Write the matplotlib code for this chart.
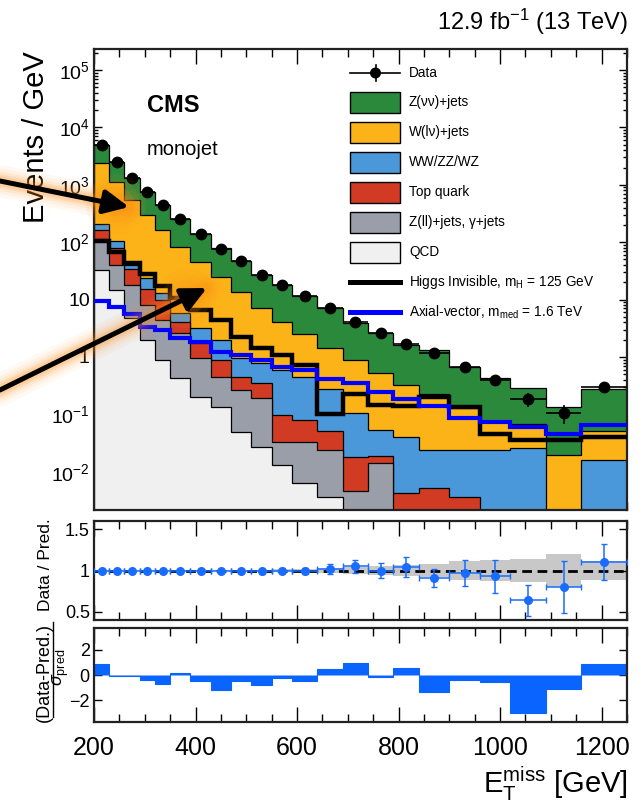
import numpy as np
import matplotlib
matplotlib.use("Agg")
import matplotlib.pyplot as plt
from matplotlib.patches import FancyArrowPatch, Rectangle, Circle
from matplotlib.ticker import FixedLocator, FuncFormatter, MultipleLocator, LogLocator, NullFormatter, NullLocator

plt.rcParams['font.family'] = ['Liberation Sans', 'DejaVu Sans']
plt.rcParams['mathtext.fontset'] = 'custom'
plt.rcParams['mathtext.rm'] = 'Liberation Sans'
plt.rcParams['mathtext.it'] = 'Liberation Sans:italic'
plt.rcParams['mathtext.bf'] = 'Liberation Sans:bold'
plt.rcParams['mathtext.sf'] = 'Liberation Sans'

# ---------------- data ----------------
edges = [200, 230, 260, 290, 320, 350, 390, 430, 470, 510, 550, 590, 640, 690,
         740, 790, 840, 900, 960, 1020, 1090, 1160, 1250]

data = [4940, 2470, 1330, 750, 440, 251, 137, 77.1, 46.5, 26.5, 18.2, 11.7, 7.22,
        4.07, 2.59, 1.66, 1.19, 0.656, 0.397, 0.183, 0.107, 0.304]
data_err = [13, 9.1, 6.7, 5.0, 3.8, 2.5, 1.85, 1.39, 1.08, 0.81, 0.67, 0.48, 0.38,
            0.285, 0.228, 0.182, 0.141, 0.105, 0.081, 0.051, 0.039, 0.058]

qcd = [32.8, 14.7, 4.72, 1.98, 0.887, 0.426, 0.203, 0.136, 0.050, 0.0274, 0.0131,
       0.0063, 0.0036, 0, 0, 0, 0, 0, 0, 0, 0, 0]
zll = [80.9, 25.4, 13.2, 6.07, 3.52, 2.16, 0.746, 0.318, 0.216, 0.163, 0.0203,
       0.0271, 0.0204, 0.0046, 0.0141, 0.0015, 0.001, 0.001, 0.0005, 0, 0, 0]
top = [52.3, 38.2, 15.7, 7.05, 5.43, 1.53, 0.78, 0.433, 0.188, 0.157, 0.0643,
       0.0464, 0.0274, 0.0137, 0.0044, 0.0027, 0.0042, 0.0026, 0.001, 0.001, 0, 0.001]
vv = [41.5, 26.7, 6.4, 8.4, 3.36, 1.65, 1.43, 1.09, 0.495, 0.429, 0.496, 0.374,
      0.226, 0.0862, 0.035, 0.0362, 0.0188, 0.0204, 0.0225, 0.0247, 0.0015, 0.0151]
wlnu = [2162, 1027, 503, 274.5, 149.8, 77.7, 42.5, 23.1, 12.75, 6.36, 3.48, 2.07,
        1.158, 0.78, 0.4725, 0.2846, 0.203, 0.104, 0.0527, 0.0423, 0.0181, 0.0353]
znn = [2570, 1338, 787, 452, 277, 167.5, 91.3, 52.7, 32.8, 19.66, 14.13, 9.18, 5.65,
       2.99, 2.064, 1.275, 1.093, 0.548, 0.350, 0.218, 0.1144, 0.2246]

higgs = [106.3, 68.3, 42.9, 27.9, 17.3, 10.66, 6.59, 4.41, 2.26, 1.42, 1.08, 0.726,
         0.1016, 0.2266, 0.146, 0.140, 0.201, 0.1346, 0.0456, 0.0358, 0.0358, 0.0404]
axial = [9.57, 7.52, 5.61, 3.37, 2.95, 2.12, 1.85, 1.24, 1.08, 0.887, 0.678, 0.594,
         0.414, 0.348, 0.249, 0.1855, 0.140, 0.0855, 0.0746, 0.0591, 0.0456, 0.0654]

ratio = [1.0, 1.0, 1.0, 1.0, 0.998, 1.0, 1.0, 0.99, 1.0, 0.99, 1.0, 0.995, 1.02,
         1.05, 1.0, 1.04, 0.91, 0.97, 0.93, 0.64, 0.80, 1.10]
ratio_err = [0.003, 0.004, 0.005, 0.007, 0.009, 0.011, 0.014, 0.018, 0.022, 0.028,
             0.034, 0.04, 0.06, 0.075, 0.09, 0.12, 0.11, 0.16, 0.2, 0.19, 0.31, 0.22]
pred_unc = [0.004, 0.004, 0.005, 0.005, 0.006, 0.007, 0.008, 0.009, 0.01, 0.012,
            0.015, 0.02, 0.03, 0.04, 0.05, 0.065, 0.08, 0.11, 0.13, 0.14, 0.2, 0.11]
pull = [0.87, -0.05, -0.05, -0.37, -0.68, 0.12, -0.5, -1.18, -0.5, -0.75, -0.2,
        -0.45, 0.5, 0.95, -0.18, 0.58, -1.35, -0.4, -0.55, -3.02, -1.07, 0.87]

labels = ["Z(\u03bd\u03bd)+jets", "W(l\u03bd)+jets", "WW/ZZ/WZ", "Top quark",
          "Z(ll)+jets, \u03b3+jets", "QCD"]
colors = ["#2b893c", "#fbb317", "#4a98d9", "#d13b24", "#9a9ea8", "#f0f0f0"]

# ---------------- figure ----------------
fig = plt.figure(figsize=(6.4, 8.02), dpi=100)
L = 94 / 640
W = (627 - 94) / 640
ax = fig.add_axes([L, 1 - 510 / 802, W, 461 / 802])
axr = fig.add_axes([L, 1 - 620 / 802, W, 99 / 802])
axp = fig.add_axes([L, 1 - 722 / 802, W, 94 / 802])

e = np.array(edges, dtype=float)
centers = 0.5 * (e[1:] + e[:-1])
halfw = 0.5 * (e[1:] - e[:-1])

floor = 1e-5
comps = [qcd, zll, top, vv, wlnu, znn]       # bottom -> top
cols_b2t = colors[::-1]
cums = np.cumsum(np.array(comps, dtype=float), axis=0)
for i in range(len(comps) - 1, -1, -1):
    ax.stairs(np.maximum(cums[i], floor), e, baseline=floor, fill=True,
              facecolor=cols_b2t[i], edgecolor='black', linewidth=0.9, zorder=2)

ax.stairs(higgs, e, baseline=None, color='black', linewidth=3.2, zorder=4)
ax.stairs(axial, e, baseline=None, color='#0000ff', linewidth=3.0, zorder=4)
ax.errorbar(centers, data, yerr=data_err, xerr=halfw, fmt='o', color='black',
            ms=7.5, elinewidth=1.2, capsize=0, zorder=6)

ax.set_yscale('log')
ax.set_xlim(200, 1250)
ax.set_ylim(10 ** -2.666, 10 ** 5.366)


def logfmt(v, pos):
    ex = int(round(np.log10(v)))
    if ex == 0:
        return "1"
    if ex == 1:
        return "10"
    return r"$10^{%d}$" % ex


ax.yaxis.set_major_locator(LogLocator(base=10, numticks=20))
ax.yaxis.set_minor_locator(LogLocator(base=10, subs=np.arange(2, 10), numticks=20))
ax.yaxis.set_major_formatter(FuncFormatter(logfmt))
ax.yaxis.set_minor_formatter(NullFormatter())

for a in (ax, axr, axp):
    a.xaxis.set_major_locator(MultipleLocator(200))
    a.xaxis.set_minor_locator(MultipleLocator(50))
    a.set_xlim(200, 1250)
    a.tick_params(axis='both', which='both', direction='in', top=True, right=True,
                  width=1.0, colors='black')
    a.tick_params(axis='x', which='major', length=11)
    a.tick_params(axis='x', which='minor', length=5.5)
    a.tick_params(axis='y', which='major', length=6)
    a.tick_params(axis='y', which='minor', length=3)
    for s in a.spines.values():
        s.set_linewidth(1.6)
        s.set_color('#222222')

for a in (ax, axr):
    a.xaxis.set_major_formatter(NullFormatter())
    a.tick_params(axis='x', labelbottom=False)
ax.tick_params(axis='y', labelsize=14, pad=3)

# ratio panel
unc = np.array(pred_unc)
axr.stairs(1 + unc, e, baseline=1 - unc, fill=True, color='#c8c8c8', lw=0, zorder=1)
axr.axhline(1.0, color='black', lw=2.0, ls=(0, (3.5, 2)), zorder=2)
axr.errorbar(centers, ratio, yerr=ratio_err, xerr=halfw, fmt='o', color='#1a6cff',
             ms=5.5, elinewidth=1.1, capsize=2.5, capthick=1.0, zorder=3)
axr.set_ylim(0.4, 1.6)
axr.yaxis.set_major_locator(FixedLocator([0.5, 1.0, 1.5]))
axr.yaxis.set_major_formatter(FuncFormatter(lambda v, p: {0.5: "0.5", 1.0: "1", 1.5: "1.5"}.get(round(v, 1), "")))
axr.yaxis.set_minor_locator(NullLocator())
axr.tick_params(axis='y', labelsize=13, pad=3)

# pull panel
axp.stairs(pull, e, baseline=0, fill=True, facecolor='#0a64ff', edgecolor='#0a64ff',
           linewidth=0.8, zorder=2)
axp.set_ylim(-3.7, 3.7)
axp.yaxis.set_major_locator(FixedLocator([-2, 0, 2]))
axp.yaxis.set_minor_locator(NullLocator())
axp.tick_params(axis='y', labelsize=13, pad=3)
axp.tick_params(axis='x', labelsize=18, pad=10)

# ---------------- overlay (text, legend, arrows) ----------------
ov = fig.add_axes([0, 0, 1, 1], zorder=20)
ov.set_xlim(0, 640)
ov.set_ylim(802, 0)
ov.axis('off')

ov.text(628, 22, r"12.9 fb$^{-1}$ (13 TeV)", ha='right', va='center', fontsize=17)
ov.text(147, 106, "CMS", ha='left', va='center', fontsize=17, fontweight='bold')
ov.text(147, 155, "monojet", ha='left', va='baseline', fontsize=14.5)
ov.text(36, 137, "Events / GeV", ha='center', va='center', rotation=90, fontsize=21)
ov.text(46, 565, "Data / Pred.", ha='center', va='center', rotation=90, fontsize=12.5)
ov.text(44, 672, "(Data-Pred.)", ha='center', va='center', rotation=90, fontsize=13)
ov.plot([52.5, 52.5], [622, 717], color='black', lw=1.0)
ov.text(61, 667, r"$\sigma_{\mathrm{pred}}$", ha='center', va='center', rotation=90, fontsize=13)
ov.text(628, 793, r"E$_{\mathrm{T}}^{\mathrm{miss}}$ [GeV]", ha='right', va='baseline', fontsize=21)

# legend
leg_y = [73, 102, 132, 162, 192, 222, 252, 282, 312]
lx0, lx1, tx = 350, 400, 409
ov.plot([lx0, lx1], [leg_y[0], leg_y[0]], color='black', lw=1.2)
ov.plot([375.5, 375.5], [leg_y[0] - 8, leg_y[0] + 8], color='black', lw=1.2)
ov.add_patch(Circle((375.5, leg_y[0]), 4.8, color='black', zorder=3))
ov.text(tx, leg_y[0], "Data", ha='left', va='center', fontsize=9.8)
for k in range(6):
    y = leg_y[k + 1]
    ov.add_patch(Rectangle((lx0, y - 10.5), lx1 - lx0, 21, facecolor=colors[k],
                           edgecolor='black', lw=1.0))
    ov.text(tx, y, labels[k], ha='left', va='center', fontsize=9.8)
ov.plot([lx0, lx1], [leg_y[7], leg_y[7]], color='black', lw=3.6)
ov.text(tx, leg_y[7], r"Higgs Invisible, m$_{\mathrm{H}}$ = 125 GeV", ha='left', va='center', fontsize=9.8)
ov.plot([lx0, lx1], [leg_y[8], leg_y[8]], color='#0000ff', lw=3.6)
ov.text(tx, leg_y[8], r"Axial-vector, m$_{\mathrm{med}}$ = 1.6 TeV", ha='left', va='center', fontsize=9.8)


def glow_arrow(x0, y0, x1, y1):
    glow = '#ff8c1a'
    for lw, a in [(32, 0.05), (25, 0.07), (19, 0.09), (14, 0.12), (10, 0.16)]:
        ov.plot([x0, x1], [y0, y1], color=glow, lw=lw * 0.72, alpha=a,
                solid_capstyle='round', zorder=5)
    hx = x1 - (x1 - x0) * 0.1
    hy = y1 - (y1 - y0) * 0.1
    for r, a in [(30, 0.07), (24, 0.09), (18, 0.13), (12, 0.18)]:
        ov.add_patch(Circle((hx, hy), r, color=glow, alpha=a, lw=0, zorder=5))
    arr = FancyArrowPatch((x0, y0), (x1, y1),
                          arrowstyle='-|>,head_length=0.5,head_width=0.24',
                          mutation_scale=30, color='black', lw=3.6,
                          shrinkA=0, shrinkB=0, zorder=8)
    ov.add_patch(arr)


glow_arrow(0, 181, 129, 207)
glow_arrow(0, 390, 207, 288)

fig.savefig("out.png", dpi=100)
